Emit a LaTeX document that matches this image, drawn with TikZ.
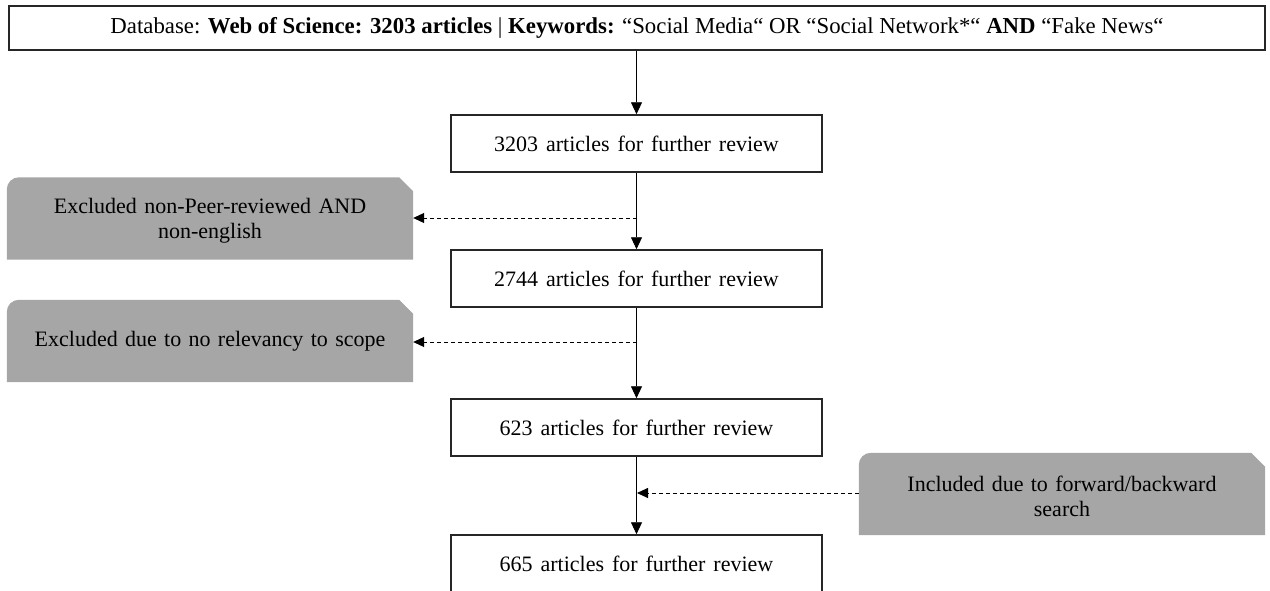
\documentclass[tikz,border=0pt]{standalone}
\usepackage{fontspec}
\setmainfont{Liberation Serif}
\usetikzlibrary{arrows.meta,backgrounds}

\definecolor{boxgray}{RGB}{166,166,166}

% slightly wider word spacing for the stage boxes
\newcommand{\widewords}{\fontsize{22}{26}\selectfont\spaceskip=0.36em plus 0.1em\relax}

\tikzset{
  every node/.style={font=\fontsize{22}{26}\selectfont},
  stagebox/.style={draw=black!85, line width=1.5pt, fill=white, minimum width=371pt,
    minimum height=57pt, inner sep=0pt, align=center, font=\widewords},
  headbox/.style={draw=black!85, line width=1.5pt, fill=white, minimum width=1256pt,
    minimum height=44pt, inner sep=0pt, align=center,
    font=\fontsize{22.8}{26}\selectfont},
  notebox/.style={minimum width=406pt, minimum height=82pt, inner sep=0pt,
    align=center, text width=380pt},
  flow/.style={draw=black, line width=0.9pt, -{Triangle[length=12pt,width=11pt]}},
  side/.style={draw=black, line width=0.9pt, dash pattern=on 4pt off 3pt,
    -{Triangle[length=11pt,width=10pt]}},
  x=1pt, y=-1pt
}

% grey note shape: rounded top-left corner, clipped top-right corner;
% #2 lifts the shape relative to the centred text
\newcommand{\noteshape}[2]{%
  \fill[boxgray, transform canvas={yshift=#2}] (#1.south west) -- ([yshift=-12pt]#1.north west)
    arc[start angle=180, end angle=90, radius=12pt]
    -- ([xshift=-14pt]#1.north east) -- ([yshift=-14pt]#1.north east)
    -- (#1.south east) -- cycle;}

\begin{document}
\begin{tikzpicture}
\useasboundingbox (0,0) rectangle (1270,590);
\clip (0,0) rectangle (1270,590);

\node[headbox] (db) at (637,28)
  {Database: \textbf{Web of Science: 3203 articles} | \textbf{Keywords:} “Social Media“ OR “Social Network*“ \textbf{AND} “Fake News“};

\node[stagebox] (s1) at (636.5,143.5) {3203 articles for further review};
\node[stagebox] (s2) at (636.5,278.5) {2744 articles for further review};
\node[stagebox] (s3) at (636.5,427.5) {623 articles for further review};
\node[stagebox] (s4) at (636.5,563.5) {665 articles for further review};

\node[notebox] (ex1) at (210,221) {Excluded non-Peer-reviewed AND\\[-1pt]non-english};
\node[notebox] (ex2) at (210,341) {Excluded due to no relevancy to scope};
\node[notebox] (inc) at (1062,496.5) {Included due to forward/backward\\[-1pt]search};

\begin{scope}[on background layer]
  \noteshape{ex1}{2.5pt}
  \noteshape{ex2}{0pt}
  \noteshape{inc}{2.5pt}
\end{scope}

\coordinate (j1) at (637,218);
\coordinate (j2) at (637,342);
\coordinate (j3) at (637,493);

\draw[flow] (db.south -| s1.north) -- (s1.north);
\draw[flow] (s1) -- (s2);
\draw[flow] (s2) -- (s3);
\draw[flow] (s3) -- (s4);

\draw[side] (j1) -- (ex1.east |- j1);
\draw[side] (j2) -- (ex2.east |- j2);
\draw[side] (inc.west |- j3) -- (j3);
\end{tikzpicture}
\end{document}
